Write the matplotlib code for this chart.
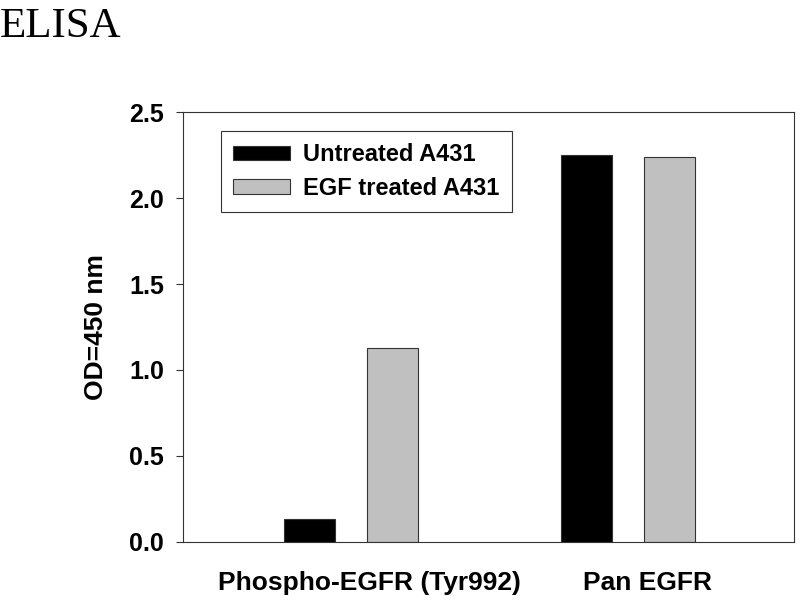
import numpy as np
import matplotlib
matplotlib.use("Agg")
import matplotlib.pyplot as plt
from matplotlib.transforms import ScaledTranslation

groups = ["Phospho-EGFR (Tyr992)", "Pan EGFR"]
series_names = ["Untreated A431", "EGF treated A431"]
untreated = [0.134, 2.250]
egf_treated = [1.128, 2.238]
y_ticks = [0.0, 0.5, 1.0, 1.5, 2.0, 2.5]

plt.rcParams['font.family'] = ['Liberation Sans', 'DejaVu Sans']
plt.rcParams['font.weight'] = 'bold'

fig = plt.figure(figsize=(8, 6), dpi=100)
ax = fig.add_axes([0.229, 0.0967, 0.7635, 0.7166])

x = np.arange(len(groups))
w = 0.184
off = 0.150
edge = '#333333'
ax.bar(x - off, untreated, w, color='black', edgecolor=edge, linewidth=0.8, label=series_names[0])
ax.bar(x + off, egf_treated, w, color='#c0c0c0', edgecolor=edge, linewidth=0.8, label=series_names[1])

ax.set_xlim(-0.604, 1.598)
ax.set_ylim(0, 2.5)
ax.set_yticks(y_ticks)
ax.set_yticklabels([f"{v:.1f}" for v in y_ticks], fontsize=18, fontweight='bold')
ax.set_xticks(x)
ax.set_xticklabels(groups, fontsize=19, fontweight='bold')
ax.tick_params(axis='x', length=0, pad=21)
ax.tick_params(axis='y', length=5, width=0.8, pad=9, color=edge)
for lab in ax.get_xticklabels():
    lab.set_transform(lab.get_transform() + ScaledTranslation(0.19, 0, fig.dpi_scale_trans))

for s in ax.spines.values():
    s.set_linewidth(0.8)
    s.set_color(edge)

ax.set_ylabel("OD=450 nm", fontsize=19, fontweight='bold', labelpad=15)

# legende en haut a gauche, cadre carre
leg = ax.legend(loc='upper left', bbox_to_anchor=(0.062, 0.956), borderaxespad=0,
                handlelength=2.4, handleheight=0.55, handletextpad=0.55,
                labelspacing=0.45, borderpad=0.52, fancybox=False, framealpha=1,
                prop={'weight': 'bold', 'size': 17})
leg.get_frame().set_edgecolor(edge)
leg.get_frame().set_linewidth(0.8)

fig.text(0.0, 1 - 37 / 600, "ELISA", fontsize=31, family='Liberation Serif',
         fontweight='normal', ha='left', va='baseline')

fig.savefig("out.png", dpi=100)
